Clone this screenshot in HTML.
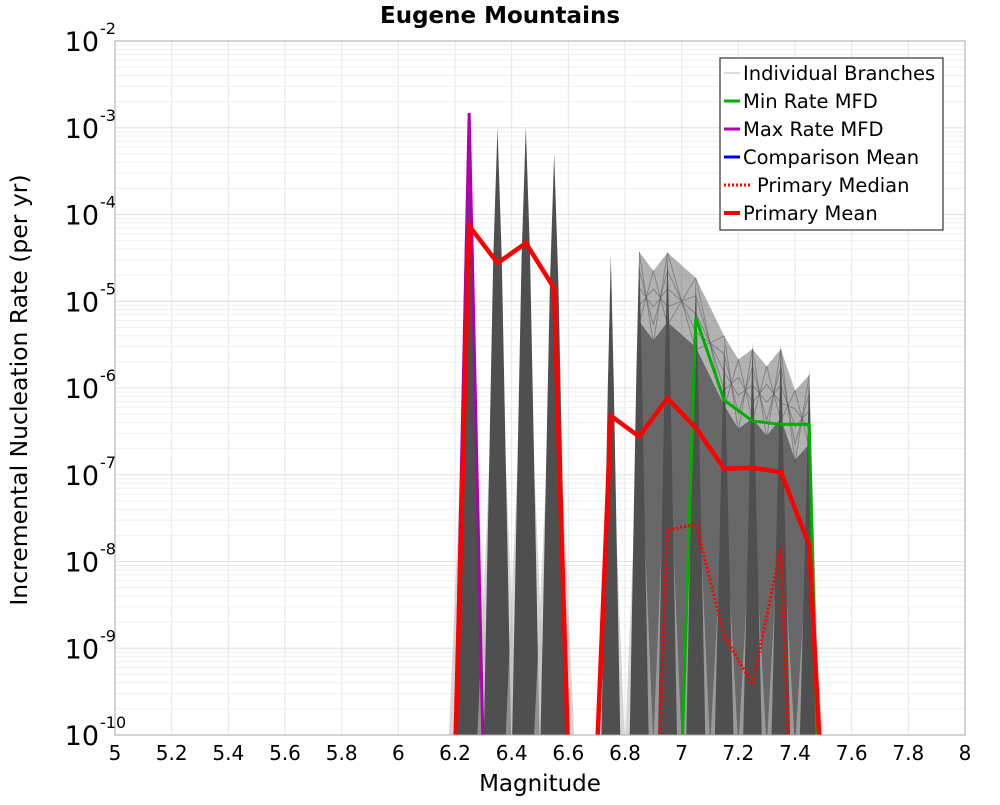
<!DOCTYPE html>
<html><head><meta charset="utf-8"><style>
body{margin:0;background:#fff;font-family:"Liberation Sans","DejaVu Sans",sans-serif;}
</style></head><body>
<svg id="chart" width="1000" height="800" xmlns="http://www.w3.org/2000/svg" font-family="DejaVu Sans, Liberation Sans, sans-serif">
<defs><clipPath id="plotclip"><rect x="115" y="41" width="850" height="694"/></clipPath></defs>
<rect width="1000" height="800" fill="#fff"/>
<text x="500" y="23" text-anchor="middle" font-size="23" font-weight="bold">Eugene Mountains</text>
<g id="grid"></g>
<g id="marks" clip-path="url(#plotclip)"></g>
<rect x="115" y="41" width="850" height="694" fill="none" stroke="#aaa" stroke-width="1"/>
<g id="axes"></g>
<text x="540" y="791" text-anchor="middle" font-size="23">Magnitude</text>
<text transform="translate(27,390) rotate(-90)" text-anchor="middle" font-size="23.5">Incremental Nucleation Rate (per yr)</text>
<g>
<rect x="720" y="58" width="223" height="172" fill="#fff" stroke="#333" stroke-width="1.2"/>
<line x1="724" y1="73" x2="740" y2="73" stroke="#bbb" stroke-width="1"/><text x="743" y="80" font-size="19.5">Individual Branches</text>
<line x1="724" y1="101" x2="740" y2="101" stroke="#00b000" stroke-width="3"/><text x="743" y="108" font-size="19.5">Min Rate MFD</text>
<line x1="724" y1="129" x2="740" y2="129" stroke="#b000b0" stroke-width="3"/><text x="743" y="136" font-size="19.5">Max Rate MFD</text>
<line x1="724" y1="157" x2="740" y2="157" stroke="#0000ff" stroke-width="3"/><text x="743" y="164" font-size="19.5">Comparison Mean</text>
<line x1="724" y1="185" x2="752" y2="185" stroke="#f00" stroke-width="3" stroke-dasharray="2,2"/><text x="757" y="192" font-size="19.5">Primary Median</text>
<line x1="724" y1="213" x2="740" y2="213" stroke="#f00" stroke-width="4"/><text x="743" y="220" font-size="19.5">Primary Mean</text>
</g>
</svg>
<script>
const magBins=[6.25,6.35,6.45,6.55,6.75,6.85,6.95,7.05,7.15,7.25,7.35,7.45];
const branchPeakLog=[-2.83,-3.0,-2.99,-3.3,-4.47,-4.43,-4.44,-4.73,-5.45,-5.47,-5.49,-5.77];
const meshMags=[6.85,6.9,6.95,7.05,7.15,7.2,7.25,7.3,7.35,7.4,7.45];
const meshTopLog=[-4.43,-4.65,-4.44,-4.73,-5.4,-5.67,-5.55,-5.75,-5.55,-6.03,-5.85];
const meanMags=[6.2,6.25,6.35,6.45,6.55,6.6,6.7,6.75,6.85,6.95,7.05,7.15,7.25,7.35,7.45,7.49];
const meanLog=[-10.3,-4.13,-4.56,-4.33,-4.85,-10.3,-10.3,-6.32,-6.56,-6.12,-6.46,-6.93,-6.92,-6.97,-7.81,-10.3];
const medianMags=[6.92,6.95,7.05,7.15,7.25,7.35,7.38];
const medianLog=[-10.3,-7.64,-7.57,-8.85,-9.42,-7.84,-10.3];
const minMags=[7.0,7.05,7.15,7.25,7.35,7.45,7.48];
const minLog=[-10.3,-5.19,-6.14,-6.38,-6.42,-6.42,-10.3];
const maxMags=[6.2,6.25,6.3];
const maxLog=[-10.3,-2.83,-10.3];
const xTicks=[5,5.2,5.4,5.6,5.8,6,6.2,6.4,6.6,6.8,7,7.2,7.4,7.6,7.8,8];
const yDecades=[-2,-3,-4,-5,-6,-7,-8,-9,-10];

const NS="http://www.w3.org/2000/svg";
const X=m=>115+(m-5)*850/3;
const Y=l=>41+(-2-l)*694/8;
function mk(tag,attrs,parent){const e=document.createElementNS(NS,tag);for(const k in attrs)e.setAttribute(k,attrs[k]);parent.appendChild(e);return e;}
const grid=document.getElementById('grid'),marks=document.getElementById('marks'),axes=document.getElementById('axes');

xTicks.forEach(t=>{
  const l=mk('line',{x1:X(t),x2:X(t),y1:41,y2:735,stroke:'#e6e6e6'},grid);
  
  
  const tx=mk('text',{x:X(t),y:760,'text-anchor':'middle','font-size':'20'},axes);
  tx.textContent=String(t);
  
  
});
yDecades.forEach(d=>{
  for(let k=1;k<10;k++){
    const lv=d-1+Math.log10(k);
    if(lv<-10) continue;
    const g=mk('line',{x1:115,x2:965,y1:Y(lv),y2:Y(lv),stroke:k==1?'#e0e0e0':'#efefef'},grid);
    
    
  }
  const t=mk('text',{x:99,y:Y(d)+10,'text-anchor':'end','font-size':'27'},axes);
  t.textContent='10';
  
  
  const s=mk('text',{x:100,y:Y(d)-7,'text-anchor':'start','font-size':'16'},axes);
  s.textContent=String(d);
  
  
});

// light mesh envelope
let env=[[X(6.83),Y(-10.3)]];
meshMags.forEach((m,i)=>env.push([X(m),Y(meshTopLog[i])]));
env.push([X(7.49),Y(-10.3)]);
const ep=mk('polygon',{points:env.map(p=>p.join(',')).join(' '),fill:'#555','fill-opacity':'0.45'},marks);


// dense dark core
let core=[[X(6.84),Y(-10.3)]];
meshMags.forEach((m,i)=>core.push([X(m),Y(meshTopLog[i]-0.8)]));
core.push([X(7.48),Y(-10.3)]);
const cp=mk('polygon',{points:core.map(p=>p.join(',')).join(' '),fill:'#555','fill-opacity':'0.8'},marks);


// mesh lines
for(let i=0;i<meshMags.length-1;i++){
  for(let k=0;k<5;k++){
    const l=mk('line',{x1:X(meshMags[i]),y1:Y(meshTopLog[i])+k*18,x2:X(meshMags[i+1]),y2:Y(meshTopLog[i+1])+(4-k)*18,stroke:'#555','stroke-opacity':'0.5','stroke-width':'1'},marks);
    
    
  }
}
// spikes
magBins.forEach((m,i)=>{
  const w=i<4?0.05:0.035;
  const p2=mk('polygon',{points:`${X(m-w*1.5)},${Y(-10.3)} ${X(m)},${Y(branchPeakLog[i]-1.7)} ${X(m+w*1.5)},${Y(-10.3)}`,fill:'#bbb','fill-opacity':'0.6'},marks);
  
  
  const p=mk('polygon',{points:`${X(m-w)},${Y(-10.3)} ${X(m-w*0.3)},${Y(branchPeakLog[i]-1.5)} ${X(m)},${Y(branchPeakLog[i])} ${X(m+w*0.3)},${Y(branchPeakLog[i]-1.5)} ${X(m+w)},${Y(-10.3)}`,fill:'#4f4f4f'},marks);
  
  
});
function series(ms,ls,color,w,name,dash){
  const p=mk('polyline',{points:ms.map((m,i)=>X(m)+','+Y(ls[i])).join(' '),fill:'none',stroke:color,'stroke-width':w,'stroke-linejoin':'miter'},marks);
  if(dash)p.setAttribute('stroke-dasharray',dash);
  
  
}
series(maxMags,maxLog,'#b000b0',3,'max-rate-mfd-line');
series(minMags,minLog,'#00b000',3,'min-rate-mfd-line');
series(medianMags,medianLog,'#f00',3,'primary-median-line','2,2');
series(meanMags,meanLog,'#f00',4.5,'primary-mean-line');
</script>
</body></html>
